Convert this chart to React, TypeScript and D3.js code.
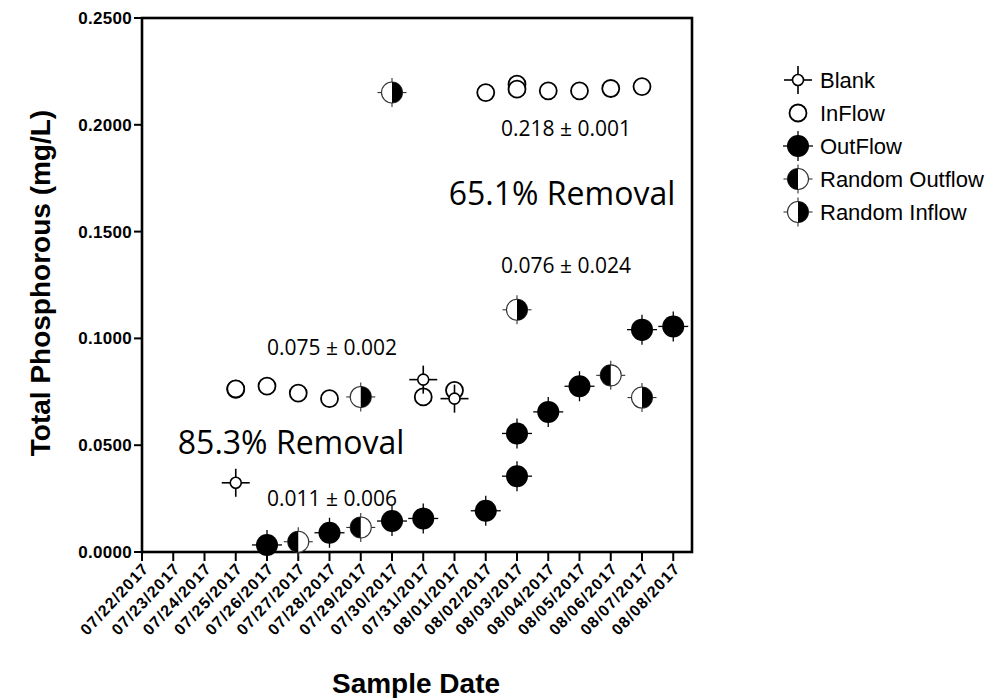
import React from "react";
import * as d3 from "d3";

// sample days on the x axis
const dayLabels = [
  "07/22/2017", "07/23/2017", "07/24/2017", "07/25/2017", "07/26/2017", "07/27/2017",
  "07/28/2017", "07/29/2017", "07/30/2017", "07/31/2017", "08/01/2017", "08/02/2017",
  "08/03/2017", "08/04/2017", "08/05/2017", "08/06/2017", "08/07/2017", "08/08/2017",
];
const yTicks = [0, 0.05, 0.1, 0.15, 0.2, 0.25];

// series
const inflowDates = [
  "07/25/2017", "07/25/2017", "07/26/2017", "07/27/2017", "07/28/2017", "07/31/2017",
  "08/01/2017", "08/02/2017", "08/03/2017", "08/03/2017", "08/04/2017", "08/05/2017",
  "08/06/2017", "08/07/2017", "08/07/2017",
];
const inflowValues = [
  0.0762, 0.0764, 0.0777, 0.0744, 0.0718, 0.0726,
  0.0757, 0.2151, 0.219, 0.2167, 0.2159, 0.2159,
  0.217, 0.2179, 0.1032,
];

const blankDates = ["07/25/2017", "07/31/2017", "08/01/2017"];
const blankValues = [0.0324, 0.0807, 0.0718];

const outflowDates = [
  "07/26/2017", "07/28/2017", "07/30/2017", "07/31/2017", "08/02/2017", "08/03/2017",
  "08/03/2017", "08/04/2017", "08/05/2017", "08/07/2017", "08/08/2017",
];
const outflowValues = [
  0.0033, 0.009, 0.0145, 0.0157, 0.0193, 0.0355,
  0.0555, 0.0656, 0.0776, 0.1041, 0.1056,
];

const randOutDates = ["07/27/2017", "07/29/2017", "08/06/2017"];
const randOutValues = [0.0048, 0.0115, 0.0827];

const randInDates = ["07/29/2017", "07/30/2017", "08/03/2017", "08/07/2017"];
const randInValues = [0.0726, 0.2151, 0.1134, 0.0723];

const legendNames = ["Blank", "InFlow", "OutFlow", "Random Outflow", "Random Inflow"];

// text notes, placed in data space (day index, value)
const notes = [
  { text: "0.218 \u00b1 0.001", day: 13.57, value: 0.1981, big: false },
  { text: "65.1% Removal", day: 13.44, value: 0.1678, big: true },
  { text: "0.076 \u00b1 0.024", day: 13.57, value: 0.1341, big: false },
  { text: "0.075 \u00b1 0.002", day: 6.08, value: 0.0958, big: false },
  { text: "85.3% Removal", day: 4.77, value: 0.0509, big: true },
  { text: "0.011 \u00b1 0.006", day: 6.08, value: 0.0252, big: false },
];

const W = 1005, H = 698;
const left = 142, right = 692, top = 18, bottom = 552;
const helv = "'Liberation Sans', Arial, Helvetica, sans-serif";
const myriad = "'Open Sans', 'Noto Sans', sans-serif";

const x = d3.scaleLinear().domain([0, 17.6]).range([left, right]);
const y = d3.scaleLinear().domain([0, 0.25]).range([bottom, top]);
const xOf = (d: string) => x(dayLabels.indexOf(d));

const arc = d3.arc();
const leftHalf = (r: number) => arc({ innerRadius: 0, outerRadius: r, startAngle: Math.PI, endAngle: 2 * Math.PI } as any) as string;
const rightHalf = (r: number) => arc({ innerRadius: 0, outerRadius: r, startAngle: 0, endAngle: Math.PI } as any) as string;

function Cross({ len, color, w }: { len: number; color: string; w: number }) {
  return (
    <g stroke={color} strokeWidth={w}>
      <line x1={-len} x2={len} y1={0} y2={0} />
      <line x1={0} x2={0} y1={-len} y2={len} />
    </g>
  );
}

function Marker({ kind }: { kind: string }) {
  if (kind === "Blank") {
    return (
      <g>
        <Cross len={14} color="#000" w={1.6} />
        <circle r={5.5} fill="#fff" stroke="#000" strokeWidth={1.6} />
      </g>
    );
  }
  if (kind === "InFlow") {
    return <circle r={8.5} fill="#fff" stroke="#000" strokeWidth={1.8} />;
  }
  if (kind === "OutFlow") {
    return (
      <g>
        <Cross len={15} color="#000" w={1.3} />
        <circle r={11} fill="#000" />
      </g>
    );
  }
  const half = kind === "Random Outflow" ? leftHalf(10.5) : rightHalf(10.5);
  return (
    <g>
      <Cross len={14.5} color="#333" w={1.1} />
      <circle r={10.5} fill="#fff" stroke="#333" strokeWidth={1.1} />
      <path d={half} fill="#000" />
    </g>
  );
}

function Series({ kind, dates, values }: { kind: string; dates: string[]; values: number[] }) {
  return (
    <g>
      {dates.map((d, i) => (
        <g key={i} transform={`translate(${xOf(d)},${y(values[i])})`}>
          <Marker kind={kind} />
        </g>
      ))}
    </g>
  );
}

export default function App() {
  return (
    <svg width={W} height={H} style={{ position: "absolute", left: 0, top: 0, background: "#fff" }}>
      <rect width={W} height={H} fill="#fff" />

      {/* y ticks and labels */}
      {yTicks.map((t) => (
        <g key={t}>
          <line x1={left - 8} x2={left} y1={y(t)} y2={y(t)} stroke="#000" strokeWidth={2} />
          <text x={left - 10} y={y(t)} dy="0.35em" textAnchor="end" fontFamily={helv} fontWeight="bold" fontSize={17} letterSpacing={0.3}>
            {d3.format(".4f")(t)}
          </text>
        </g>
      ))}

      {/* x ticks and labels */}
      {dayLabels.map((d, i) => (
        <g key={d}>
          <line x1={x(i)} x2={x(i)} y1={bottom} y2={bottom + 9} stroke="#000" strokeWidth={2} />
          <text transform={`translate(${x(i) + 8},${bottom + 17}) rotate(-47)`} textAnchor="end" fontFamily={helv} fontWeight="bold" fontSize={16} letterSpacing={1.2}>
            {d}
          </text>
        </g>
      ))}

      {/* frame */}
      <rect x={left} y={top} width={right - left} height={bottom - top} fill="none" stroke="#000" strokeWidth={2.6} />

      {/* points */}
      <Series kind="InFlow" dates={inflowDates} values={inflowValues} />
      <Series kind="Blank" dates={blankDates} values={blankValues} />
      <Series kind="OutFlow" dates={outflowDates} values={outflowValues} />
      <Series kind="Random Outflow" dates={randOutDates} values={randOutValues} />
      <Series kind="Random Inflow" dates={randInDates} values={randInValues} />

      {/* notes */}
      {notes.map((n) => (
        <text key={n.text} x={x(n.day)} y={y(n.value)} dy="0.35em" textAnchor="middle" fontFamily={myriad} fontSize={n.big ? 32 : 21}>
          {n.text}
        </text>
      ))}

      {/* axis titles */}
      <text transform={`translate(40,${(top + bottom) / 2 - 2}) rotate(-90)`} dy="0.35em" textAnchor="middle" fontFamily={helv} fontWeight="bold" fontSize={28}>
        Total Phosphorous (mg/L)
      </text>
      <text x={416} y={683} dy="0.35em" textAnchor="middle" fontFamily={helv} fontWeight="bold" fontSize={28}>
        Sample Date
      </text>

      {/* legend */}
      {legendNames.map((name, i) => (
        <g key={name} transform={`translate(798,${80 + i * 33})`}>
          <Marker kind={name} />
          <text x={22} dy="0.35em" fontFamily={helv} fontSize={22}>
            {name}
          </text>
        </g>
      ))}
    </svg>
  );
}
